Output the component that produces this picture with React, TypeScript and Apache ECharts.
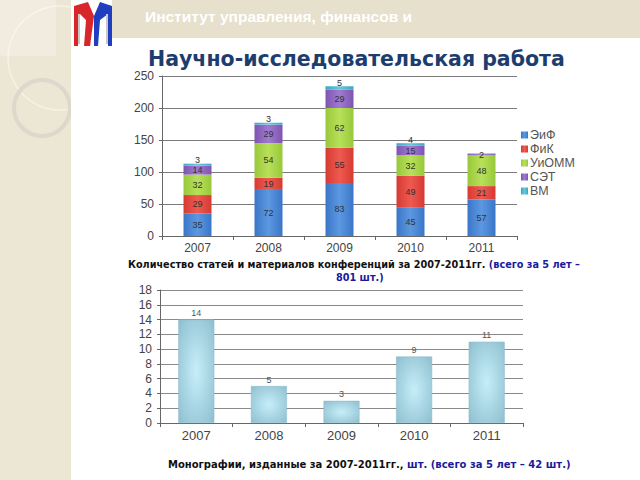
import React, { useEffect, useRef } from "react";
import * as echarts from "echarts";

const years = ["2007", "2008", "2009", "2010", "2011"];
const seriesNames = ["ЭиФ", "ФиК", "УиОММ", "СЭТ", "ВМ"];
const eif = [35, 72, 83, 45, 57];
const fik = [29, 19, 55, 49, 21];
const uiomm = [32, 54, 62, 32, 48];
const set = [14, 29, 29, 15, 2];
const vm = [3, 3, 5, 4, 1];
const monographs = [14, 5, 3, 9, 11];
const topTicks = [0, 50, 100, 150, 200, 250];
const bottomTicks = [0, 2, 4, 6, 8, 10, 12, 14, 16, 18];

const stackColors = [
  ["#3a76c8", "#5c98e0"],
  ["#d63a33", "#ee5a50"],
  ["#98c83a", "#b8e05a"],
  ["#7e54b0", "#a07ad0"],
  ["#3aa6c4", "#6cc6dc"],
];

function grad(c: string[]) {
  return new echarts.graphic.LinearGradient(0, 0, 1, 0, [
    { offset: 0, color: c[0] },
    { offset: 0.5, color: c[1] },
    { offset: 1, color: c[0] },
  ]);
}

export default function App() {
  const ref = useRef<HTMLDivElement>(null);
  useEffect(() => {
    const chart = echarts.init(ref.current!, null, { renderer: "svg" });
    const stackData = [eif, fik, uiomm, set, vm];
    const font = "Arial, 'Liberation Sans', sans-serif";
    const capFont = "'DejaVu Sans', sans-serif";
    chart.setOption({
      animation: false,
      backgroundColor: "#ffffff",
      graphic: [
        { type: "rect", z: -10, shape: { x: 0, y: 0, width: 71, height: 480 }, style: { fill: "#ece6d4" } },
        { type: "circle", z: -9, shape: { cx: 60, cy: 58, r: 52 }, style: { fill: "none", stroke: "#f6f2e6", lineWidth: 1.5 } },
        { type: "circle", z: -9, shape: { cx: 42, cy: 108, r: 28 }, style: { fill: "none", stroke: "#dcd8cc", lineWidth: 4 } },
        { type: "rect", z: -9, shape: { x: 0, y: 0, width: 56, height: 56 }, style: { fill: "rgba(255,255,255,0.25)" } },
        { type: "rect", z: -8, shape: { x: 71, y: 0, width: 569, height: 480 }, style: { fill: "#ffffff" } },
        { type: "rect", z: -7, shape: { x: 112, y: 0, width: 528, height: 38 }, style: { fill: "#e6e0cc" } },
        { type: "polygon", z: -6, shape: { points: [[74, 6], [88, 2], [94, 16], [90, 46], [84, 46], [86, 20], [80, 14], [78, 46], [74, 46]] }, style: { fill: "#d8262a" } },
        { type: "polygon", z: -6, shape: { points: [[94, 16], [100, 2], [112, 6], [112, 46], [108, 46], [108, 14], [100, 20], [98, 46], [94, 46]] }, style: { fill: "#1f3fc0" } },
        { type: "polygon", z: -5, shape: { points: [[78, 14], [80, 14], [80, 44], [78, 44]] }, style: { fill: "#c8c8c8" } },
        { type: "polygon", z: -5, shape: { points: [[106, 14], [108, 14], [108, 44], [106, 44]] }, style: { fill: "#c8c8c8" } },
        { type: "text", z: 5, left: 145, top: 8, style: { text: "Институт управления, финансов и", fill: "#ffffff", font: "bold 15.5px Arial, 'Liberation Sans', sans-serif" } },
        { type: "text", z: 5, left: 148, top: 48, style: { text: "Научно-исследовательская работа", fill: "#1d3d6e", font: "bold 20.5px " + capFont } },
        {
          type: "text", z: 5, left: 128, top: 259,
          style: {
            text: "{a|Количество статей и материалов конференций за 2007-2011гг. }{b|(всего за 5 лет –}",
            rich: {
              a: { fill: "#111111", font: "bold 9.7px " + capFont },
              b: { fill: "#1a1a9a", font: "bold 9.7px " + capFont },
            },
          },
        },
        { type: "text", z: 5, left: 336, top: 272, style: { text: "801 шт.)", fill: "#1a1a9a", font: "bold 9.7px " + capFont } },
        {
          type: "text", z: 5, left: 168, top: 459,
          style: {
            text: "{a|Монографии, изданные за 2007-2011гг., }{b|шт. (всего за 5 лет – 42 шт.)}",
            rich: {
              a: { fill: "#111111", font: "bold 10px " + capFont },
              b: { fill: "#1a1a9a", font: "bold 10px " + capFont },
            },
          },
        },
      ],
      legend: {
        data: seriesNames,
        orient: "vertical",
        left: 516,
        top: 123,
        itemWidth: 7,
        itemHeight: 7,
        itemGap: 0,
        icon: "rect",
        textStyle: { fontSize: 12.5, lineHeight: 14, color: "#555", fontFamily: font, padding: [0, 0, 0, -3] },
      },
      grid: [
        { left: 162, right: 123, top: 76, height: 160 },
        { left: 160, right: 117, top: 290, height: 133 },
      ],
      xAxis: [0, 1].map((i) => ({
        type: "category",
        gridIndex: i,
        data: years,
        axisLine: { lineStyle: { color: "#666", width: 1 } },
        axisTick: { show: true, lineStyle: { color: "#666" }, length: 4 },
        axisLabel: { fontSize: i === 0 ? 12 : 13, color: "#444", fontFamily: font, margin: 6 },
      })),
      yAxis: [
        {
          type: "value", gridIndex: 0, min: topTicks[0], max: topTicks[topTicks.length - 1], interval: 50,
          axisLine: { show: true, lineStyle: { color: "#666" } },
          axisTick: { show: true, length: 3, lineStyle: { color: "#666" } },
          splitLine: { lineStyle: { color: "#7a7a7a", width: 1 } },
          axisLabel: { fontSize: 12, color: "#444", fontFamily: font, margin: 8 },
        },
        {
          type: "value", gridIndex: 1, min: bottomTicks[0], max: bottomTicks[bottomTicks.length - 1], interval: 2,
          axisLine: { show: true, lineStyle: { color: "#666" } },
          axisTick: { show: true, length: 3, lineStyle: { color: "#666" } },
          splitLine: { lineStyle: { color: "#8a8a8a", width: 1 } },
          axisLabel: { fontSize: 12, color: "#444", fontFamily: font, margin: 8 },
        },
      ],
      series: [
        ...seriesNames.map((name, i) => ({
          name,
          type: "bar",
          stack: "total",
          xAxisIndex: 0,
          yAxisIndex: 0,
          barWidth: 28,
          data: stackData[i],
          itemStyle: { color: grad(stackColors[i]) },
          label: {
            show: true,
            position: i === 4 ? "top" : "inside",
            distance: -1,
            fontSize: 9,
            color: "#333",
            fontFamily: font,
            formatter: (p: any) => (p.value >= 2 ? String(p.value) : ""),
          },
        })),
        {
          name: "Монографии",
          type: "bar",
          xAxisIndex: 1,
          yAxisIndex: 1,
          barWidth: 36,
          data: monographs,
          itemStyle: {
            color: {
              type: "radial", x: 0.5, y: 0.5, r: 0.7,
              colorStops: [
                { offset: 0, color: "#c6eef9" },
                { offset: 1, color: "#8ebfcf" },
              ],
            },
            borderColor: "#8ab8c8",
            borderWidth: 0.5,
          },
          label: { show: true, position: "top", fontSize: 9, color: "#555", fontFamily: font, distance: 2 },
        },
      ],
    });
    return () => chart.dispose();
  }, []);
  return <div ref={ref} style={{ position: "absolute", left: 0, top: 0, width: 640, height: 480 }} />;
}
